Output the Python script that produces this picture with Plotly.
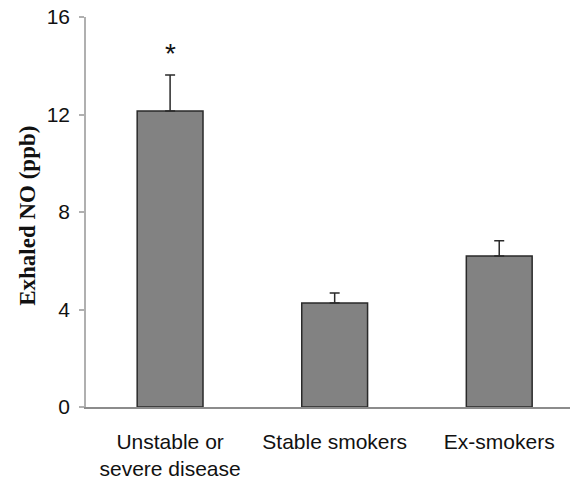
import plotly.graph_objects as go

categories = ["Unstable or<br>severe disease", "Stable smokers", "Ex-smokers"]
values = [12.14, 4.27, 6.2]
errors = [1.48, 0.41, 0.62]
y_ticks = [0, 4, 8, 12, 16]

fig = go.Figure()
fig.add_trace(go.Bar(
    x=list(range(len(categories))),
    y=values,
    width=0.40,
    marker=dict(color="#828282", line=dict(color="#2a2a2a", width=1.5)),
    error_y=dict(type="data", symmetric=False, array=errors,
                 arrayminus=[0] * len(errors), color="#2a2a2a",
                 thickness=1.5, width=5),
))

fig.add_annotation(x=0, y=values[0] + errors[0], yref="y", xref="x",
                   text="*", showarrow=False, yshift=22,
                   font=dict(family="Liberation Sans, Arial", size=28, color="#111"))

fig.add_annotation(xref="paper", yref="paper", x=-0.12, y=0.49,
                   xanchor="center", yanchor="middle",
                   text="<b>Exhaled NO (ppb)</b>", textangle=-90, showarrow=False,
                   font=dict(family="Liberation Serif, Times New Roman", size=23, color="#111"))

fig.update_layout(
    width=571, height=479,
    margin=dict(l=86, r=1, t=17, b=72),
    plot_bgcolor="white", paper_bgcolor="white",
    showlegend=False,
    font=dict(family="Liberation Sans, Arial", size=21, color="#111"),
    xaxis=dict(
        range=[-0.511, 2.43], automargin=False,
        tickmode="array", tickvals=list(range(len(categories))), ticktext=categories,
        showline=True, linecolor="#8c8c8c", linewidth=1.5,
        ticks="", showgrid=False, zeroline=False,
        ticklabelstandoff=15,
    ),
    yaxis=dict(
        range=[0, 16], automargin=False,
        tickmode="array", tickvals=y_ticks,
        showline=True, linecolor="#b0b0b0", linewidth=1.5,
        ticks="outside", ticklen=5, tickcolor="#b0b0b0", tickwidth=1.5,
        showgrid=False, zeroline=False,
        ticklabelstandoff=5, ticklabeloverflow="allow",
    ),
)

fig.write_html("out.html", config={"displayModeBar": False},
               post_script="document.body.style.margin='0';document.body.style.overflow='hidden';")
